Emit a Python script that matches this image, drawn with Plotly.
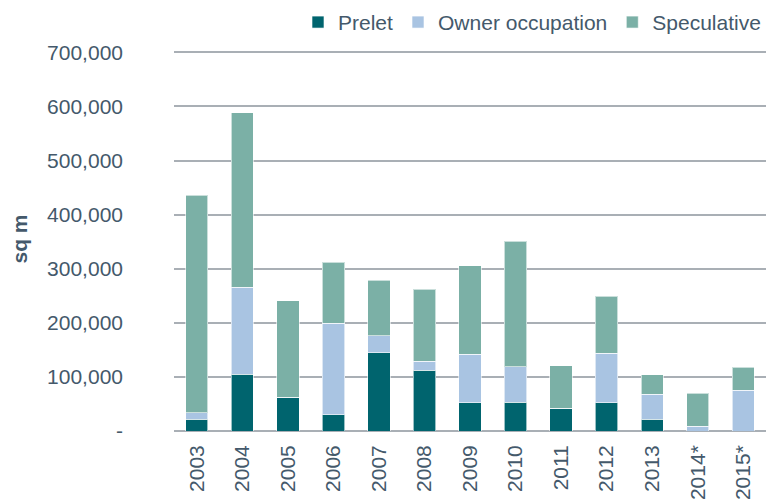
import plotly.graph_objects as go

years = ['2003', '2004', '2005', '2006', '2007', '2008', '2009', '2010',
         '2011', '2012', '2013', '2014*', '2015*']
prelet = [22000, 105000, 62000, 30000, 145000, 112000, 52000, 53000,
          42000, 52000, 22000, 0, 0]
owner_occupation = [12000, 161000, 0, 169000, 31000, 17000, 90000, 66000,
                    0, 92000, 46000, 9000, 75000]
speculative = [402000, 322000, 179000, 113000, 103000, 133000, 164000,
               232000, 79000, 105000, 36000, 61000, 43000]

y_ticks = [0, 100000, 200000, 300000, 400000, 500000, 600000, 700000]
y_tick_text = ['-', '100,000', '200,000', '300,000', '400,000', '500,000',
               '600,000', '700,000']

text_color = '#44596B'
font = 'Liberation Sans, Arial, sans-serif'

fig = go.Figure()
for name, vals, color in [('Prelet', prelet, '#00646E'),
                          ('Owner occupation', owner_occupation, '#A9C4E2'),
                          ('Speculative', speculative, '#7BB0A6')]:
    fig.add_trace(go.Bar(
        x=years, y=vals, name=name,
        marker=dict(color=color,
                    line=dict(color='rgba(255,255,255,0.6)', width=1)),
    ))

# page body has an 8px margin, so the figure is a bit smaller than the window
fig.update_layout(
    barmode='stack',
    bargap=0.51,
    width=772, height=491,
    margin=dict(l=166, r=14, t=39, b=68, autoexpand=False),
    plot_bgcolor='white',
    paper_bgcolor='white',
    font=dict(family=font, size=21, color=text_color),
    legend=dict(orientation='h', x=1.0, xanchor='right', y=1.064,
                yanchor='middle', font=dict(size=21),
                traceorder='normal', itemwidth=30),
    xaxis=dict(tickangle=-90, showgrid=False, showline=False,
               ticks='', tickfont=dict(size=21), automargin=False,
               ticklabelstandoff=9),
    # range a little above 700k so the top grid line is still drawn
    yaxis=dict(range=[0, 710000], tickvals=y_ticks, ticktext=y_tick_text,
               showgrid=True, gridcolor='#A9AFB5', gridwidth=1.5,
               zeroline=True, zerolinecolor='#A9AFB5', zerolinewidth=1.5,
               ticklabelstandoff=50, automargin=False,
               title=dict(text='<b>sq m</b>', standoff=24,
                          font=dict(size=21))),
)

fig.write_html('out.html')
